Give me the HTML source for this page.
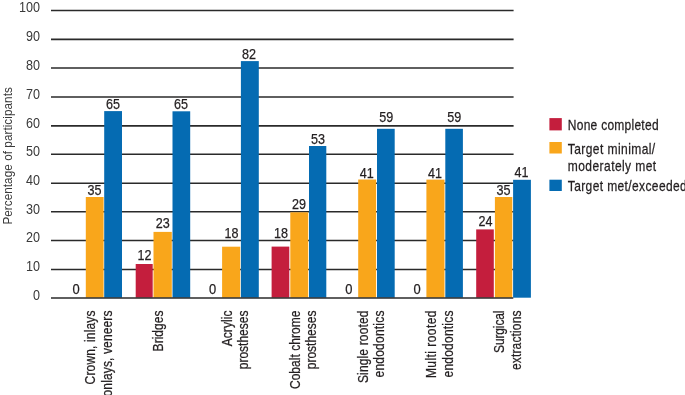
<!DOCTYPE html><html><head><meta charset="utf-8"><style>html,body{margin:0;padding:0;background:#fff;width:685px;height:395px;overflow:hidden}svg{display:block}text{font-family:"Liberation Sans",sans-serif;fill:#231F20;stroke:#231F20;stroke-width:0.25px}</style></head><body>
<svg width="685" height="395" viewBox="0 0 685 395">
<line x1="51" y1="269.50" x2="513.6" y2="269.50" stroke="#2a2a2a" stroke-width="1.6"/>
<line x1="51" y1="240.50" x2="513.6" y2="240.50" stroke="#2a2a2a" stroke-width="1.6"/>
<line x1="51" y1="211.70" x2="513.6" y2="211.70" stroke="#2a2a2a" stroke-width="1.6"/>
<line x1="51" y1="183.30" x2="513.6" y2="183.30" stroke="#2a2a2a" stroke-width="1.6"/>
<line x1="51" y1="154.30" x2="513.6" y2="154.30" stroke="#2a2a2a" stroke-width="1.6"/>
<line x1="51" y1="125.90" x2="513.6" y2="125.90" stroke="#2a2a2a" stroke-width="1.6"/>
<line x1="51" y1="97.00" x2="513.6" y2="97.00" stroke="#2a2a2a" stroke-width="1.6"/>
<line x1="51" y1="68.00" x2="513.6" y2="68.00" stroke="#2a2a2a" stroke-width="1.6"/>
<line x1="51" y1="39.40" x2="513.6" y2="39.40" stroke="#2a2a2a" stroke-width="1.6"/>
<line x1="51" y1="10.45" x2="513.6" y2="10.45" stroke="#2a2a2a" stroke-width="1.6"/>
<text x="40.0" y="299.80" style="fill:#3a3a3a;stroke:none" font-size="14.5" text-anchor="end" textLength="7.0" lengthAdjust="spacingAndGlyphs">0</text>
<text x="40.0" y="271.30" style="fill:#3a3a3a;stroke:none" font-size="14.5" text-anchor="end" textLength="14.0" lengthAdjust="spacingAndGlyphs">10</text>
<text x="40.0" y="242.30" style="fill:#3a3a3a;stroke:none" font-size="14.5" text-anchor="end" textLength="14.0" lengthAdjust="spacingAndGlyphs">20</text>
<text x="40.0" y="213.50" style="fill:#3a3a3a;stroke:none" font-size="14.5" text-anchor="end" textLength="14.0" lengthAdjust="spacingAndGlyphs">30</text>
<text x="40.0" y="185.10" style="fill:#3a3a3a;stroke:none" font-size="14.5" text-anchor="end" textLength="14.0" lengthAdjust="spacingAndGlyphs">40</text>
<text x="40.0" y="156.10" style="fill:#3a3a3a;stroke:none" font-size="14.5" text-anchor="end" textLength="14.0" lengthAdjust="spacingAndGlyphs">50</text>
<text x="40.0" y="127.70" style="fill:#3a3a3a;stroke:none" font-size="14.5" text-anchor="end" textLength="14.0" lengthAdjust="spacingAndGlyphs">60</text>
<text x="40.0" y="98.80" style="fill:#3a3a3a;stroke:none" font-size="14.5" text-anchor="end" textLength="14.0" lengthAdjust="spacingAndGlyphs">70</text>
<text x="40.0" y="69.80" style="fill:#3a3a3a;stroke:none" font-size="14.5" text-anchor="end" textLength="14.0" lengthAdjust="spacingAndGlyphs">80</text>
<text x="40.0" y="41.20" style="fill:#3a3a3a;stroke:none" font-size="14.5" text-anchor="end" textLength="14.0" lengthAdjust="spacingAndGlyphs">90</text>
<text x="40.0" y="12.25" style="fill:#3a3a3a;stroke:none" font-size="14.5" text-anchor="end" textLength="21.0" lengthAdjust="spacingAndGlyphs">100</text>
<rect x="85.80" y="197.00" width="17.80" height="100.70" fill="#F9A61B"/>
<rect x="104.20" y="111.10" width="17.80" height="186.60" fill="#056BB2"/>
<rect x="135.70" y="264.00" width="17.00" height="33.70" fill="#C41E3D"/>
<rect x="153.50" y="231.90" width="18.30" height="65.80" fill="#F9A61B"/>
<rect x="172.50" y="111.30" width="17.70" height="186.40" fill="#056BB2"/>
<rect x="222.10" y="246.70" width="18.10" height="51.00" fill="#F9A61B"/>
<rect x="240.90" y="61.10" width="17.90" height="236.60" fill="#056BB2"/>
<rect x="271.60" y="246.60" width="17.70" height="51.10" fill="#C41E3D"/>
<rect x="290.30" y="212.30" width="17.90" height="85.40" fill="#F9A61B"/>
<rect x="309.00" y="146.00" width="17.30" height="151.70" fill="#056BB2"/>
<rect x="358.20" y="179.50" width="17.90" height="118.20" fill="#F9A61B"/>
<rect x="377.00" y="128.80" width="17.70" height="168.90" fill="#056BB2"/>
<rect x="426.40" y="179.60" width="18.10" height="118.10" fill="#F9A61B"/>
<rect x="445.30" y="128.80" width="17.60" height="168.90" fill="#056BB2"/>
<rect x="476.20" y="229.40" width="17.60" height="68.30" fill="#C41E3D"/>
<rect x="494.90" y="197.00" width="17.40" height="100.70" fill="#F9A61B"/>
<rect x="513.10" y="179.80" width="17.80" height="117.90" fill="#056BB2"/>
<line x1="51" y1="298.00" x2="513.3" y2="298.00" stroke="#2a2a2a" stroke-width="1.6"/>
<text x="76.15" y="294.10" font-size="14.5" text-anchor="middle" textLength="7.2" lengthAdjust="spacingAndGlyphs">0</text>
<text x="94.40" y="195.00" font-size="14.5" text-anchor="middle" textLength="14.0" lengthAdjust="spacingAndGlyphs">35</text>
<text x="112.95" y="108.70" font-size="14.5" text-anchor="middle" textLength="14.0" lengthAdjust="spacingAndGlyphs">65</text>
<text x="144.60" y="260.20" font-size="14.5" text-anchor="middle" textLength="14.0" lengthAdjust="spacingAndGlyphs">12</text>
<text x="162.80" y="227.50" font-size="14.5" text-anchor="middle" textLength="14.0" lengthAdjust="spacingAndGlyphs">23</text>
<text x="180.90" y="108.60" font-size="14.5" text-anchor="middle" textLength="14.0" lengthAdjust="spacingAndGlyphs">65</text>
<text x="212.50" y="294.10" font-size="14.5" text-anchor="middle" textLength="7.2" lengthAdjust="spacingAndGlyphs">0</text>
<text x="231.55" y="237.60" font-size="14.5" text-anchor="middle" textLength="14.0" lengthAdjust="spacingAndGlyphs">18</text>
<text x="249.10" y="58.70" font-size="14.5" text-anchor="middle" textLength="14.0" lengthAdjust="spacingAndGlyphs">82</text>
<text x="280.95" y="237.60" font-size="14.5" text-anchor="middle" textLength="14.0" lengthAdjust="spacingAndGlyphs">18</text>
<text x="299.10" y="209.40" font-size="14.5" text-anchor="middle" textLength="14.0" lengthAdjust="spacingAndGlyphs">29</text>
<text x="317.90" y="143.60" font-size="14.5" text-anchor="middle" textLength="14.0" lengthAdjust="spacingAndGlyphs">53</text>
<text x="348.90" y="293.80" font-size="14.5" text-anchor="middle" textLength="7.2" lengthAdjust="spacingAndGlyphs">0</text>
<text x="366.75" y="177.50" font-size="14.5" text-anchor="middle" textLength="14.0" lengthAdjust="spacingAndGlyphs">41</text>
<text x="386.15" y="121.70" font-size="14.5" text-anchor="middle" textLength="14.0" lengthAdjust="spacingAndGlyphs">59</text>
<text x="417.05" y="293.80" font-size="14.5" text-anchor="middle" textLength="7.2" lengthAdjust="spacingAndGlyphs">0</text>
<text x="434.90" y="177.50" font-size="14.5" text-anchor="middle" textLength="14.0" lengthAdjust="spacingAndGlyphs">41</text>
<text x="454.15" y="121.70" font-size="14.5" text-anchor="middle" textLength="14.0" lengthAdjust="spacingAndGlyphs">59</text>
<text x="485.40" y="225.60" font-size="14.5" text-anchor="middle" textLength="14.0" lengthAdjust="spacingAndGlyphs">24</text>
<text x="503.55" y="194.90" font-size="14.5" text-anchor="middle" textLength="14.0" lengthAdjust="spacingAndGlyphs">35</text>
<text x="521.45" y="177.20" font-size="14.5" text-anchor="middle" textLength="14.0" lengthAdjust="spacingAndGlyphs">41</text>
<text transform="translate(95.20,310.50) rotate(-90) scale(0.86,1)" font-size="14" text-anchor="end" textLength="85.93" lengthAdjust="spacing">Crown, inlays</text>
<text transform="translate(111.80,310.50) rotate(-90) scale(0.86,1)" font-size="14" text-anchor="end" textLength="100.00" lengthAdjust="spacing">onlays, veneers</text>
<text transform="translate(163.37,310.50) rotate(-90) scale(0.86,1)" font-size="14" text-anchor="end" textLength="47.56" lengthAdjust="spacing">Bridges</text>
<text transform="translate(231.54,310.50) rotate(-90) scale(0.86,1)" font-size="14" text-anchor="end" textLength="41.63" lengthAdjust="spacing">Acrylic</text>
<text transform="translate(248.14,310.50) rotate(-90) scale(0.86,1)" font-size="14" text-anchor="end" textLength="68.37" lengthAdjust="spacing">prostheses</text>
<text transform="translate(299.71,310.50) rotate(-90) scale(0.86,1)" font-size="14" text-anchor="end" textLength="91.40" lengthAdjust="spacing">Cobalt chrome</text>
<text transform="translate(316.31,310.50) rotate(-90) scale(0.86,1)" font-size="14" text-anchor="end" textLength="68.37" lengthAdjust="spacing">prostheses</text>
<text transform="translate(367.88,310.50) rotate(-90) scale(0.86,1)" font-size="14" text-anchor="end" textLength="84.42" lengthAdjust="spacing">Single rooted</text>
<text transform="translate(384.48,310.50) rotate(-90) scale(0.86,1)" font-size="14" text-anchor="end" textLength="77.91" lengthAdjust="spacing">endodontics</text>
<text transform="translate(436.05,310.50) rotate(-90) scale(0.86,1)" font-size="14" text-anchor="end" textLength="78.60" lengthAdjust="spacing">Multi rooted</text>
<text transform="translate(452.65,310.50) rotate(-90) scale(0.86,1)" font-size="14" text-anchor="end" textLength="77.91" lengthAdjust="spacing">endodontics</text>
<text transform="translate(504.22,310.50) rotate(-90) scale(0.86,1)" font-size="14" text-anchor="end" textLength="49.42" lengthAdjust="spacing">Surgical</text>
<text transform="translate(520.82,310.50) rotate(-90) scale(0.86,1)" font-size="14" text-anchor="end" textLength="69.19" lengthAdjust="spacing">extractions</text>
<text transform="translate(12.20,224.60) rotate(-90) scale(0.86,1)" font-size="13.6" text-anchor="start" textLength="159.77" lengthAdjust="spacing" style="fill:#3a3a3a;stroke:none">Percentage of participants</text>
<rect x="549.4" y="118.1" width="12.4" height="12.3" fill="#C41E3D"/>
<rect x="549.4" y="142" width="12.4" height="11.5" fill="#F9A61B"/>
<rect x="549.4" y="179.7" width="12.4" height="11.3" fill="#056BB2"/>
<text transform="translate(567.80,130.40) scale(0.86,1)" font-size="14" text-anchor="start" textLength="105.58" lengthAdjust="spacing">None completed</text>
<text transform="translate(567.80,153.60) scale(0.86,1)" font-size="14" text-anchor="start" textLength="101.63" lengthAdjust="spacing">Target minimal/</text>
<text transform="translate(567.80,170.50) scale(0.86,1)" font-size="14" text-anchor="start" textLength="102.79" lengthAdjust="spacing">moderately met</text>
<text transform="translate(567.80,190.90) scale(0.86,1)" font-size="14" text-anchor="start" textLength="138.37" lengthAdjust="spacing">Target met/exceeded</text>
</svg></body></html>
